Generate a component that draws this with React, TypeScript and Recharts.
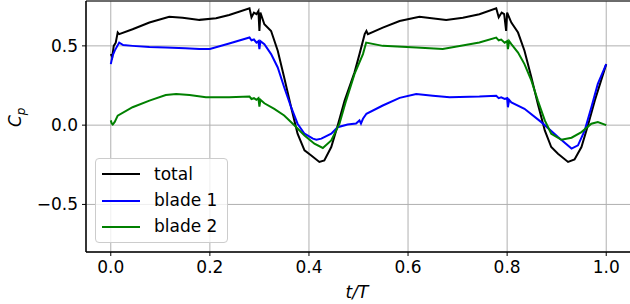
import {
  LineChart,
  Line,
  XAxis,
  YAxis,
  CartesianGrid,
  Legend,
  ReferenceArea,
  Label,
} from "recharts";

const totalT = [
  0.0, 0.003, 0.006, 0.01, 0.014, 0.017, 0.044, 0.078, 0.118, 0.145, 0.179,
  0.2125, 0.239, 0.28, 0.284, 0.289, 0.294, 0.298, 0.3, 0.302, 0.31, 0.3236,
  0.337, 0.35, 0.364, 0.377, 0.391, 0.404, 0.421, 0.431, 0.445, 0.458, 0.472,
  0.492, 0.502, 0.5125, 0.516, 0.519, 0.549, 0.583, 0.623, 0.677, 0.7107,
  0.744, 0.778, 0.783, 0.789, 0.794, 0.798, 0.8, 0.8085, 0.822, 0.835, 0.849,
  0.862, 0.876, 0.889, 0.9026, 0.923, 0.936, 0.95, 0.963, 0.977, 1.0,
];
const totalCp = [
  0.448, 0.43, 0.5, 0.52, 0.585, 0.574, 0.605, 0.647, 0.684, 0.678, 0.664,
  0.674, 0.695, 0.737, 0.68, 0.71, 0.7, 0.72, 0.594, 0.71, 0.636, 0.594,
  0.469, 0.301, 0.113, -0.054, -0.159, -0.19, -0.232, -0.222, -0.138, -0.002,
  0.155, 0.333, 0.448, 0.574, 0.594, 0.574, 0.615, 0.657, 0.684, 0.664, 0.678,
  0.7, 0.737, 0.68, 0.71, 0.7, 0.594, 0.71, 0.647, 0.584, 0.469, 0.301, 0.134,
  -0.033, -0.138, -0.18, -0.232, -0.217, -0.138, -0.002, 0.155, 0.385,
];

const blade1T = [
  0.0, 0.004, 0.008, 0.017, 0.025, 0.044, 0.078, 0.111, 0.15, 0.179, 0.2,
  0.239, 0.28, 0.284, 0.289, 0.294, 0.298, 0.3, 0.302, 0.31, 0.3236, 0.337,
  0.35, 0.364, 0.377, 0.391, 0.408, 0.415, 0.425, 0.445, 0.458, 0.478, 0.495,
  0.502, 0.505, 0.509, 0.516, 0.549, 0.583, 0.6165, 0.65, 0.684, 0.744, 0.778,
  0.783, 0.788, 0.795, 0.8, 0.8016, 0.804, 0.8085, 0.835, 0.869, 0.9026, 0.93,
  0.943, 0.9566, 0.97, 0.983, 1.0,
];
const blade1Cp = [
  0.385, 0.44, 0.47, 0.521, 0.505, 0.5, 0.493, 0.49, 0.485, 0.48, 0.48, 0.515,
  0.553, 0.535, 0.54, 0.52, 0.53, 0.48, 0.53, 0.51, 0.448, 0.364, 0.239, 0.113,
  0.009, -0.054, -0.085, -0.092, -0.085, -0.054, -0.013, 0.004, 0.01, 0.03,
  0.01, 0.04, 0.072, 0.124, 0.172, 0.197, 0.186, 0.176, 0.18, 0.185, 0.17,
  0.175, 0.165, 0.17, 0.113, 0.16, 0.144, 0.103, 0.019, -0.075, -0.148, -0.127,
  -0.033, 0.113, 0.26, 0.385,
];

const blade2T = [
  0.0, 0.002, 0.004, 0.008, 0.014, 0.044, 0.078, 0.111, 0.132, 0.159, 0.192,
  0.239, 0.28, 0.284, 0.289, 0.294, 0.298, 0.3, 0.302, 0.31, 0.33, 0.35, 0.371,
  0.391, 0.411, 0.428, 0.445, 0.4616, 0.475, 0.492, 0.509, 0.5155, 0.549,
  0.6166, 0.67, 0.744, 0.778, 0.783, 0.788, 0.795, 0.8, 0.8016, 0.804, 0.8085,
  0.822, 0.835, 0.849, 0.862, 0.876, 0.889, 0.9095, 0.93, 0.95, 0.97, 0.983,
  1.0,
];
const blade2Cp = [
  0.03, 0.01, 0.004, 0.02, 0.06, 0.113, 0.155, 0.19, 0.197, 0.19, 0.176, 0.176,
  0.18, 0.165, 0.17, 0.16, 0.17, 0.117, 0.16, 0.138, 0.103, 0.061, -0.002,
  -0.065, -0.117, -0.144, -0.096, 0.009, 0.155, 0.323, 0.448, 0.521, 0.5, 0.49,
  0.48, 0.521, 0.552, 0.535, 0.54, 0.52, 0.53, 0.48, 0.53, 0.511, 0.458, 0.385,
  0.281, 0.155, 0.03, -0.054, -0.092, -0.079, -0.044, 0.009, 0.019, 0.0,
];

const xTicks = [0, 0.2, 0.4, 0.6, 0.8, 1.0];
const yTicks = [-0.5, 0, 0.5];

const toPoints = (ts: number[], cps: number[]) =>
  ts.map((t, i) => ({ t, cp: cps[i] }));

const series = [
  { name: "total", color: "#000000", data: toPoints(totalT, totalCp) },
  { name: "blade 1", color: "#0000ff", data: toPoints(blade1T, blade1Cp) },
  { name: "blade 2", color: "#008000", data: toPoints(blade2T, blade2Cp) },
];

const FONT = "DejaVu Sans";
const tickStyle = { fill: "#000", fontSize: 17, fontFamily: FONT };
const fmt = (v: number) => (v < 0 ? "\u2212" : "") + Math.abs(v).toFixed(1);

// legend keeps the plotting order (recharts sorts payload by name)
function LegendBox() {
  return (
    <div
      style={{
        boxSizing: "border-box",
        width: 133,
        height: 85,
        paddingTop: 2,
        border: "1px solid #cccccc",
        borderRadius: 4,
        background: "rgba(255,255,255,0.8)",
        fontFamily: FONT,
        fontSize: 17,
        color: "#000",
      }}
    >
      {series.map((s) => (
        <div
          key={s.name}
          style={{ height: 26.4, display: "flex", alignItems: "center" }}
        >
          <span
            style={{
              marginLeft: 6,
              width: 38,
              height: 0,
              borderTop: `2px solid ${s.color}`,
            }}
          />
          <span style={{ marginLeft: 14, lineHeight: 1 }}>{s.name}</span>
        </div>
      ))}
    </div>
  );
}

export default function App() {
  return (
    <div
      style={{
        position: "absolute",
        left: 0,
        top: 0,
        width: 630,
        height: 304,
        overflow: "hidden",
        background: "#fff",
      }}
    >
      <LineChart
        width={631}
        height={304}
        margin={{ top: 1, right: 0, bottom: 0, left: 0 }}
      >
        <CartesianGrid stroke="#b0b0b0" strokeWidth={1} />
        <XAxis
          dataKey="t"
          type="number"
          domain={[-0.05, 1.05]}
          ticks={xTicks}
          tickFormatter={fmt}
          height={52}
          tick={tickStyle}
          tickSize={4}
          tickMargin={5}
          tickLine={{ stroke: "#000" }}
          axisLine={{ stroke: "#000" }}
          allowDataOverflow
        >
          <Label
            content={() => (
              <text
                x={357}
                y={298}
                textAnchor="middle"
                fontFamily={FONT}
                fontSize={17}
                fontStyle="italic"
                fill="#000"
              >
                t/T
              </text>
            )}
          />
        </XAxis>
        <YAxis
          type="number"
          domain={[-0.8, 0.783]}
          ticks={yTicks}
          tickFormatter={fmt}
          width={86}
          tick={tickStyle}
          tickSize={4}
          tickMargin={4}
          tickLine={{ stroke: "#000" }}
          axisLine={{ stroke: "#000" }}
          allowDataOverflow
        >
          <Label
            content={() => (
              <text
                x={20.5}
                y={127}
                transform="rotate(-90 20.5 127)"
                fontFamily={FONT}
                fontSize={17}
                fontStyle="italic"
                fill="#000"
              >
                C
                <tspan fontSize={12} dy={4}>
                  p
                </tspan>
              </text>
            )}
          />
        </YAxis>
        <ReferenceArea
          x1={-0.05}
          x2={1.05}
          y1={-0.8}
          y2={0.783}
          fill="none"
          stroke="#000"
          strokeWidth={1}
          ifOverflow="visible"
        />
        {series.map((s) => (
          <Line
            key={s.name}
            data={s.data}
            dataKey="cp"
            name={s.name}
            type="linear"
            stroke={s.color}
            strokeWidth={2}
            dot={false}
            activeDot={false}
            isAnimationActive={false}
          />
        ))}
        <Legend
          layout="horizontal"
          verticalAlign="middle"
          align="center"
          content={<LegendBox />}
          wrapperStyle={{ left: 95, top: 158, width: 133, height: 85 }}
        />
      </LineChart>
    </div>
  );
}
